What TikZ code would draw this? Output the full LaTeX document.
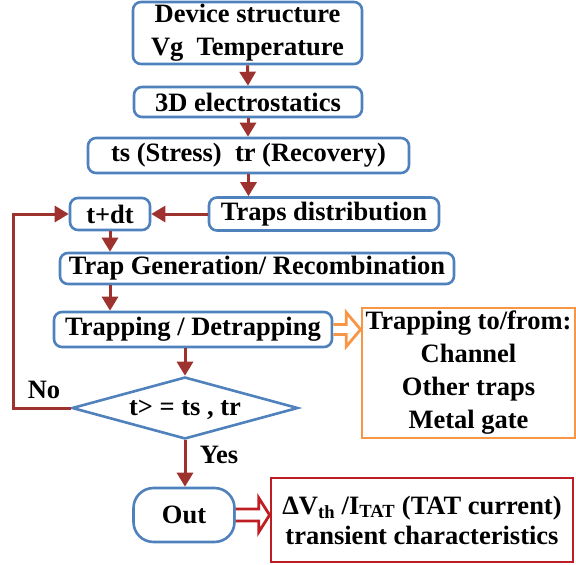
\documentclass[tikz,border=0pt]{standalone}
\usepackage{fontspec}
\setmainfont{Liberation Serif}[BoldFont={Liberation Serif Bold}]
\usetikzlibrary{arrows.meta,shapes.geometric,calc}
\definecolor{boxblue}{RGB}{79,129,189}
\definecolor{arrred}{RGB}{158,50,46}
\definecolor{outred}{RGB}{190,30,35}
\definecolor{orng}{RGB}{247,150,70}
\begin{document}
\begin{tikzpicture}[x=1pt,y=-1pt,
  font=\fontsize{26.5}{33}\selectfont\bfseries,
  blk/.style={draw=boxblue, line width=2.6pt, rounded corners=8pt, inner sep=0pt, fill=white},
  arr/.style={draw=arrred, line width=3pt, -{Triangle[length=14pt,width=16pt]}},
  hollow/.style={draw=#1, line width=2.8pt, fill=white, line join=miter},
  lbl/.style={inner sep=0pt}
]
\useasboundingbox (0,0) rectangle (576,565);

% process boxes
\node[blk, minimum width=229pt, minimum height=62pt, align=center] (dev) at (247.5,33)
  {Device structure\\Vg~~Temperature};
\node[blk, minimum width=228pt, minimum height=30pt] (es) at (248,102) {3D electrostatics};
\node[blk, minimum width=321pt, minimum height=35pt] (ts) at (248.5,155.5) {ts (Stress)~~tr (Recovery)};
\node[blk, minimum width=80pt, minimum height=32pt] (tdt) at (110,214) {t+dt};
\node[blk, minimum width=230pt, minimum height=33pt] (dist) at (324,214) {Traps distribution};
\node[blk, minimum width=394pt, minimum height=31pt] (gen) at (257,268.5) {Trap Generation/ Recombination};
\node[blk, minimum width=278pt, minimum height=35pt] (trap) at (193,329.5) {Trapping / Detrapping};

% decision
\node[draw=boxblue, line width=2.6pt, fill=white, shape=diamond, aspect=3.65,
      inner sep=0pt, text depth=0pt, minimum width=226pt, minimum height=62pt] (dec) at (185,408) {t> = ts , tr};

% side and output boxes
\node[draw=orng, line width=2.8pt, fill=white, inner sep=0pt, align=center,
      minimum width=213pt, minimum height=130pt] (tfm) at (468.5,373)
  {Trapping to/from:\\Channel\\Other traps\\Metal gate};
\node[blk, rounded corners=20pt, minimum width=101pt, minimum height=54pt] (out) at (184,515) {Out};
\node[draw=outred, line width=2.8pt, fill=white, inner sep=0pt, align=center,
      minimum width=302pt, minimum height=84pt] (res) at (422,520)
  {ΔV\textsubscript{th} /I\textsubscript{TAT} (TAT current)\\[-3pt]transient characteristics};

% connectors
\coordinate (loopx) at (13,214);
\draw[arr] (dev.south) -- (es.north);
\draw[arr] (es.south) -- (es.south |- ts.north);
\draw[arr] (ts.south) -- (ts.south |- dist.north);
\draw[arr] (dist.west) -- (tdt.east);
\draw[arr] (tdt.south) -- (tdt.south |- gen.north);
\draw[arr] (gen.south -| tdt.south) -- (trap.north -| tdt.south);
\draw[arr] (trap.south -| dec.north) -- (dec.north);
\draw[arr] (dec.west) -- (dec.west -| loopx) |- (tdt.west);
\draw[arr] (dec.south) -- (dec.south |- out.north);

\node[lbl] (no) at (44,390) {No};
\node[lbl] (yes) at (219,455) {Yes};

% hollow block arrows
\draw[hollow=orng] ($(trap.east)+(0,-5)$) -- ++(13,0) -- ++(0,-12)
  -- (tfm.west |- trap.east) -- ($(trap.east)+(13,17)$) -- ++(0,-12) -- ($(trap.east)+(0,5)$);
\draw[hollow=outred] ($(out.east)+(0,-6)$) -- ++(23,0) -- ++(0,-11)
  -- (res.west |- out.east) -- ($(out.east)+(23,17)$) -- ++(0,-11) -- ($(out.east)+(0,6)$);
\end{tikzpicture}
\end{document}
